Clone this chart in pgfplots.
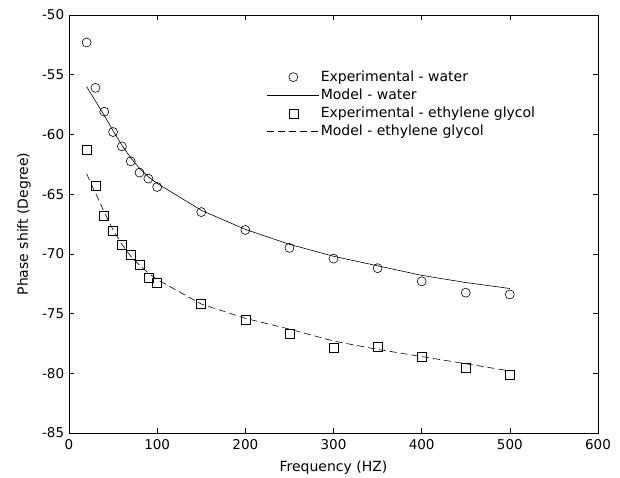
\documentclass[border=0pt]{standalone}
\usepackage{pgfplots}
\pgfplotsset{compat=1.18}
\usepackage{fontspec}
\setmainfont{DejaVu Sans}
\pgfplotsset{
  lineleg/.style={legend image code/.code={\draw[##1] (0bp,0bp) -- (52bp,0bp);}},
  markleg/.style={legend image code/.code={\draw[##1] plot coordinates {(26bp,0bp)};}},
}
\begin{document}
\fontsize{14bp}{16bp}\selectfont
\begin{tikzpicture}
\begin{axis}[
  scale only axis,
  width=529bp, height=418bp,
  xmin=0, xmax=600, ymin=-85, ymax=-50,
  xtick={0,100,200,300,400,500,600},
  xticklabels={0,100,200,300,400,500,600},
  ytick={-85,-80,-75,-70,-65,-60,-55,-50},
  yticklabels={-85,-80,-75,-70,-65,-60,-55,-50},
  tick align=inside,
  major tick length=5bp,
  tick style={black, line width=0.6bp},
  axis line style={black, line width=0.7bp},
  ticklabel style={font=\fontsize{13.5bp}{16bp}\selectfont},
  xticklabel style={yshift=-1.5bp},
  label style={font=\fontsize{14bp}{16bp}\selectfont, inner sep=1bp},
  xlabel={Frequency (HZ)},
  ylabel={Phase shift (Degree)},
  xlabel style={yshift=-5.7bp},
  ylabel style={yshift=5.5bp},
  legend style={at={(0.374,0.87)}, anchor=north west, draw=none, fill=none,
    inner sep=0pt, row sep=3bp,
    font=\fontsize{14bp}{16bp}\selectfont,
    nodes={inner sep=1.2bp}},
  legend cell align=left,
]
\addplot[only marks, mark=o, mark size=4.5bp, black, line width=0.6bp, markleg]
coordinates {
(20,-52.3) (30,-56.1) (40,-58.1) (50,-59.8) (60,-61.0) (70,-62.25) (80,-63.2) (90,-63.7) (100,-64.4)
(150,-66.5) (200,-68.0) (250,-69.5) (300,-70.4) (350,-71.2) (400,-72.3) (450,-73.25) (500,-73.4)
};
\addlegendentry{Experimental - water}
\addplot[black, line width=0.6bp, mark=none, lineleg]
coordinates {
(20,-56.0) (30,-57.2) (40,-58.4) (50,-59.7) (60,-60.9) (70,-61.95) (80,-62.85) (90,-63.55) (100,-64.1)
(150,-66.35) (200,-67.95) (250,-69.2) (300,-70.2) (350,-71.0) (400,-71.8) (450,-72.4) (500,-72.9)
};
\addlegendentry{Model - water}
\addplot[only marks, mark=square, mark size=4.5bp, black, line width=0.6bp, markleg]
coordinates {
(20,-61.3) (30,-64.3) (40,-66.8) (50,-68.05) (60,-69.2) (70,-70.1) (80,-70.9) (90,-72.0) (100,-72.4)
(150,-74.15) (200,-75.5) (250,-76.7) (300,-77.85) (350,-77.8) (400,-78.6) (450,-79.5) (500,-80.15)
};
\addlegendentry{Experimental - ethylene glycol}
\addplot[black, line width=0.6bp, mark=none, dash pattern=on 7bp off 4bp, lineleg]
coordinates {
(20,-63.3) (30,-64.9) (40,-66.5) (50,-68.0) (60,-69.2) (70,-70.2) (80,-70.95) (90,-71.6) (100,-72.15)
(150,-74.2) (200,-75.4) (250,-76.3) (300,-77.3) (350,-78.0) (400,-78.6) (450,-79.2) (500,-79.8)
};
\addlegendentry{Model - ethylene glycol}
\end{axis}
\path ([xshift=-69bp,yshift=-44bp]current axis.south west) rectangle ([xshift=22bp,yshift=15bp]current axis.north east);
\end{tikzpicture}
\end{document}
